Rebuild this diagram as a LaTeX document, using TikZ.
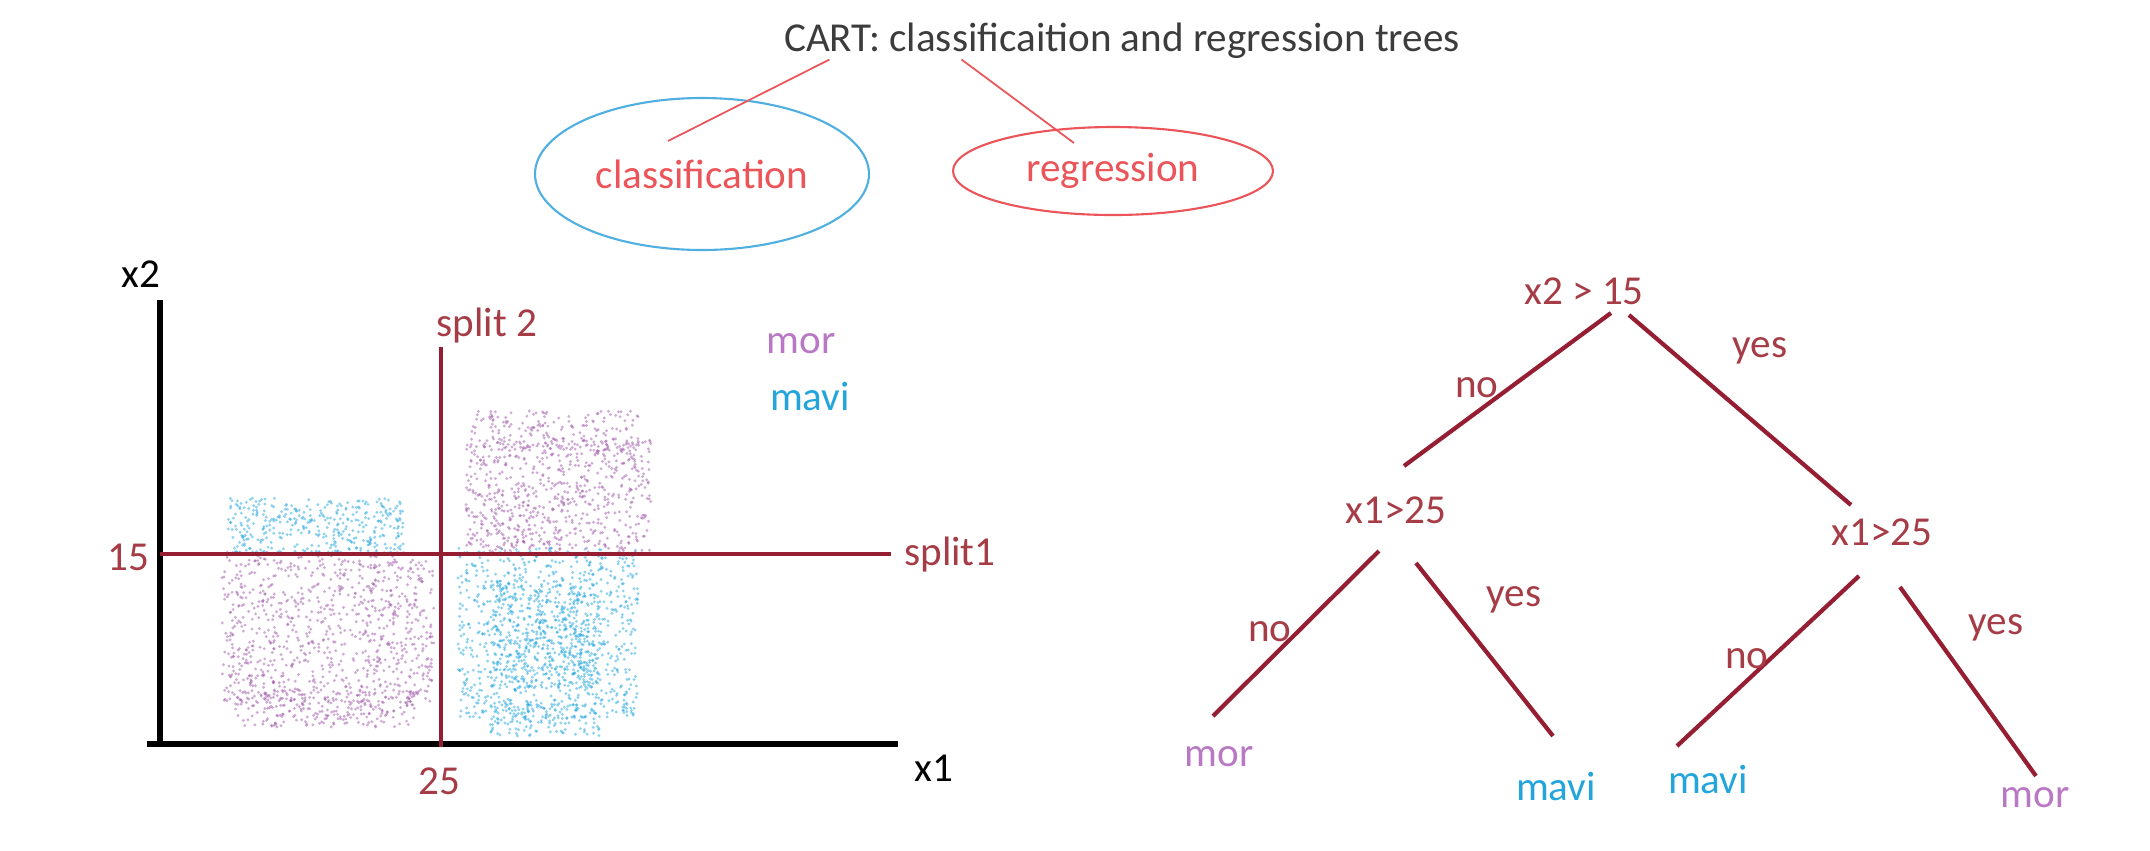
\documentclass[tikz,border=0pt]{standalone}
\usepackage{fontspec}
\setmainfont{Carlito}
\usetikzlibrary{shapes.geometric}
\usetikzlibrary{calc}

\definecolor{splitred}{RGB}{150,30,50}
\definecolor{labelred}{RGB}{165,60,70}
\definecolor{salmon}{RGB}{235,85,90}
\definecolor{skyblue}{RGB}{80,175,225}
\definecolor{morcol}{RGB}{185,120,195}
\definecolor{mavicol}{RGB}{35,165,220}
\definecolor{mordark}{RGB}{160,90,170}
\definecolor{titlegray}{RGB}{60,60,60}

\tikzset{
  txt/.style={font=\fontsize{11.7}{14}\selectfont, inner sep=0pt},
  split/.style={splitred, line width=1.2pt},
  axis/.style={black, line width=1.6pt},
  branch/.style={splitred, line width=1.2pt},
  mordot/.style={mordark, opacity=0.5},
  mavidot/.style={mavicol, opacity=0.5},
}

\begin{document}
\begin{tikzpicture}[x=0.1mm, y=-0.1mm]
\useasboundingbox (0,0) rectangle (2150,850);
%% title and the two kinds of tree
\node[txt, text=titlegray] (title) at (1122,41) {CART: classificaition and regression trees};
\node[txt, text=salmon, ellipse, draw=skyblue, line width=0.6pt,
      minimum width=33.4mm, minimum height=15.2mm] (cls) at (702,174) {classification};
\node[txt, text=salmon, ellipse, draw=salmon, line width=0.6pt,
      minimum width=32mm, minimum height=8.8mm] (reg) at (1113,171) {regression};
\coordinate (clsend) at (668,141);
\coordinate (regend) at (1074,143);
\draw[salmon, line width=0.5pt] ($(title.south west)!0.068!(title.south east)$) -- (clsend);
\draw[salmon, line width=0.5pt] ($(title.south west)!0.263!(title.south east)$) -- (regend);

%% point clouds
\pgfmathsetseed{42}
\foreach \i in {1,...,380}
  \fill[mavidot] ({228+175*rnd},{498+56*rnd}) circle (1.6);
\foreach \i in {1,...,900}
  \fill[mordot] ({222+212*rnd},{552+150*rnd}) circle (1.6);
\foreach \i in {1,...,250}
  \fill[mordot] ({235+180*rnd},{690+37*rnd}) circle (1.6);
\foreach \i in {1,...,700}
  \fill[mordot] ({466+185*rnd},{440+115*rnd}) circle (1.6);
\foreach \i in {1,...,200}
  \fill[mordot] ({470+170*rnd},{411+40*rnd}) circle (1.6);
\foreach \i in {1,...,850}
  \fill[mavidot] ({458+180*rnd},{548+170*rnd}) circle (1.6);
\foreach \i in {1,...,150}
  \fill[mavidot] ({490+110*rnd},{700+36*rnd}) circle (1.6);
\foreach \i in {1,...,450}
  \fill[mavidot] ({490+110*rnd},{580+110*rnd}) circle (1.6);

%% axes
\node[txt] (x2lab) at (141,274) {x2};
\node[txt] (x1lab) at (934,768) {x1};
\draw[axis] (160,300) -- (160,747);
\draw[axis] (147,744) -- (898,744);

%% splits
\draw[split] (441,347) -- (441,747);
\draw[split] (160,554) -- (891,554);
\node[txt, text=labelred] (s2lab) at (487,326) {split 2};
\node[txt, text=labelred] (s1lab) at (950,555) {split1};
\node[txt, text=labelred] (v15) at (128,557) {15};
\node[txt, text=labelred] (v25) at (439,781) {25};
\node[txt, text=morcol] (legmor) at (801,344) {mor};
\node[txt, text=mavicol] (legmavi) at (810,396) {mavi};

%% tree
\node[txt, text=labelred] (root) at (1584,291) {x2 > 15};
\node[txt, text=labelred] (nl) at (1396,510) {x1>25};
\node[txt, text=labelred] (nr) at (1882,532) {x1>25};
\node[txt, text=morcol] (ll) at (1219,757) {mor};
\node[txt, text=mavicol] (lr) at (1556,786) {mavi};
\node[txt, text=mavicol] (rl) at (1708,779) {mavi};
\node[txt, text=morcol] (rr) at (2035,798) {mor};

\draw[branch] ([shift={(27,22)}]root.center) -- ([shift={(8,-44)}]nl.center);
\draw[branch] ([shift={(45,24)}]root.center) -- ([shift={(-31,-27)}]nr.center);
\draw[branch] ([shift={(-17,41)}]nl.center) -- ([shift={(-6,-41)}]ll.center);
\draw[branch] ([shift={(20,53)}]nl.center) -- ([shift={(-3,-50)}]lr.center);
\draw[branch] ([shift={(-23,44)}]nr.center) -- ([shift={(-31,-33)}]rl.center);
\draw[branch] ([shift={(18,55)}]nr.center) -- ([shift={(1,-22)}]rr.center);

\node[txt, text=labelred] (no1) at (1477,388) {no};
\node[txt, text=labelred] (yes1) at (1760,351) {yes};
\node[txt, text=labelred] (no2) at (1270,632) {no};
\node[txt, text=labelred] (yes2) at (1514,600) {yes};
\node[txt, text=labelred] (no3) at (1747,659) {no};
\node[txt, text=labelred] (yes3) at (1996,628) {yes};
\end{tikzpicture}
\end{document}
